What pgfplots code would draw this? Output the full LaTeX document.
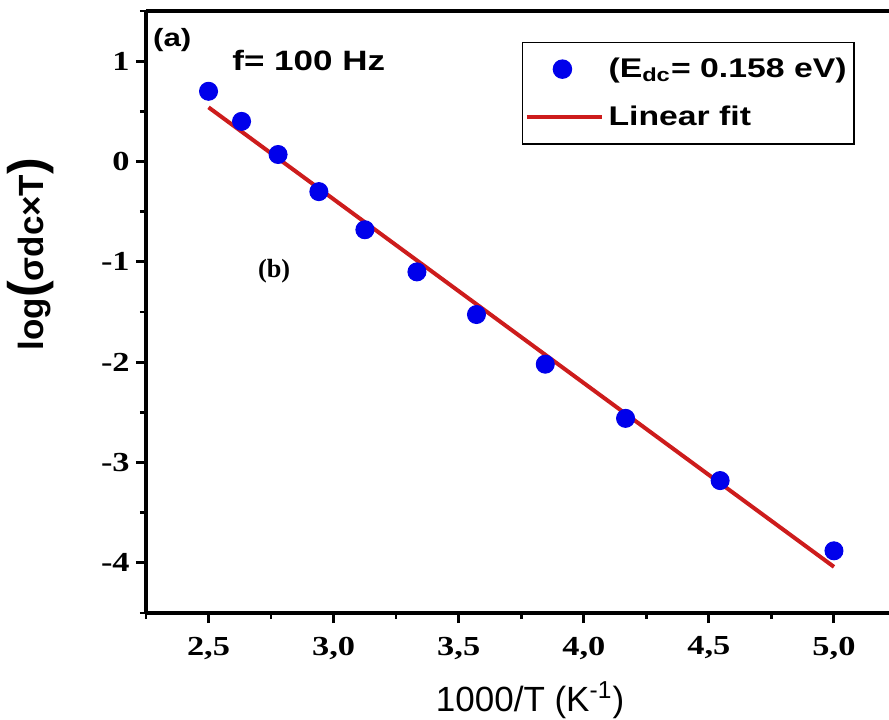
\documentclass[border=0pt]{standalone}
\usepackage{fontspec}
\setmainfont{Liberation Serif}
\setsansfont{Liberation Sans}
\newfontfamily\stsans{Liberation Sans}[FakeStretch=1.25]
\newfontfamily\stserif{Liberation Serif}[FakeStretch=1.25]
\usepackage{pgfplots}
\pgfplotsset{compat=1.18}
\pgfplotsset{
  dotlegend/.style={legend image code/.code={\draw[##1] plot[mark repeat=2, mark phase=2] coordinates {(0cm,0cm) (0.5cm,0cm) (1.05cm,0cm)};}},
  linelegend/.style={legend image code/.code={\draw[##1] (0cm,0cm) -- (1.05cm,0cm);}},
}
\definecolor{fitred}{RGB}{205,28,28}
\definecolor{ptblue}{RGB}{0,0,235}
\begin{document}
\begin{tikzpicture}
\begin{axis}[
  scale only axis,
  width=297.2pt, height=240.8pt,
  xmin=2.25, xmax=5.22, ymin=-4.5, ymax=1.5,
  axis x line=box, axis y line=left,
  axis line style={-, line width=1.6pt},
  tick align=outside,
  xtick pos=left, ytick pos=left,
  xtick={2.5,3,3.5,4,4.5,5},
  xticklabels={{2,5},{3,0},{3,5},{4,0},{4,5},{5,0}},
  ytick={-4,-3,-2,-1,0,1},
  yticklabels={-4,-3,-2,-1,0,1},
  minor xtick={2.25,2.75,3.25,3.75,4.25,4.75},
  minor ytick={-4.5,-3.5,-2.5,-1.5,-0.5,0.5,1.5},
  major tick length=4pt, minor tick length=2.4pt,
  major tick style={line width=1.2pt, black},
  minor tick style={line width=1pt, black},
  xticklabel style={font=\stserif\bfseries\fontsize{11}{12}\selectfont, yshift=-2pt},
  yticklabel style={font=\stserif\bfseries\fontsize{11}{12}\selectfont, xshift=1pt},
  xlabel={1000/T (K\textsuperscript{-1})},
  xlabel style={font=\sffamily\fontsize{14}{16}\selectfont, at={(axis description cs:0.517,0)}, anchor=center, yshift=-34.8pt},
  ylabel={log{\fontsize{20}{19}\selectfont(}σdc×T{\fontsize{20}{19}\selectfont)}},
  ylabel style={font=\sffamily\bfseries\fontsize{14}{16}\selectfont, at={(axis description cs:-0.155,0.596)}, anchor=center},
  legend style={at={(rel axis cs:0.954,0.949)}, anchor=north east, draw=black, line width=0.6pt,
    font=\stsans\bfseries\fontsize{10.8}{13}\selectfont, inner xsep=1pt, inner ysep=4pt, row sep=6pt},
  legend cell align=left,
  clip=false,
]
\addplot[only marks, mark=*, mark size=3.6pt, mark options={fill=ptblue, draw=ptblue}, dotlegend] coordinates {
(2.500,0.70) (2.632,0.40) (2.778,0.07) (2.941,-0.30) (3.125,-0.68) (3.333,-1.10)
(3.571,-1.525) (3.846,-2.02) (4.167,-2.56) (4.545,-3.18) (5.000,-3.88)
};
\addlegendentry{(E\textsubscript{dc}= 0.158 eV)}
\addplot[fitred, line width=1.6pt, no marks, linelegend] coordinates {(2.5,0.54) (5.0,-4.04)};
\addlegendentry{Linear fit}
\node[anchor=west, font=\stsans\bfseries\fontsize{10}{12}\selectfont, inner sep=0pt] at (rel axis cs:0.009,0.952) {(a)};
\node[anchor=center, font=\stsans\bfseries\fontsize{11.2}{13}\selectfont, inner sep=0pt] at (rel axis cs:0.219,0.917) {f= 100 Hz};
\node[anchor=center, font=\bfseries\fontsize{10.5}{12}\selectfont, inner sep=0pt] at (axis cs:2.762,-1.09) {(b)};
\end{axis}
\pgfresetboundingbox
\path (-58.4pt,-42.4pt) rectangle (297.2pt,245.2pt);
\end{tikzpicture}
\end{document}
